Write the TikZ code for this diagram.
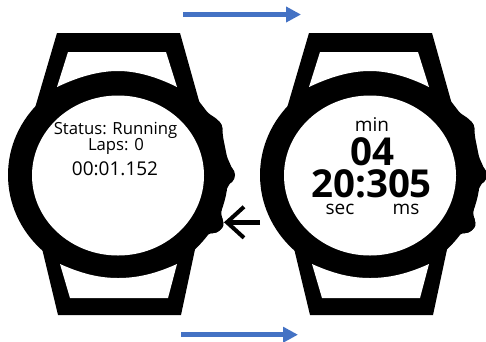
\documentclass[tikz,border=0pt]{standalone}
\usepackage{fontspec}
\setmainfont{Open Sans}
\usetikzlibrary{arrows.meta}
\definecolor{flow}{HTML}{4472C4}
\tikzset{
  x=1pt,y=-1pt,
  flowarrow/.style={draw=flow,line width=4.6pt,-{Triangle[length=15pt,width=15pt]}},
  pressarrow/.style={draw=black,line width=5.5pt,-{Straight Barb[length=17pt,width=31pt,line width=4pt]}},
  txt/.style={inner sep=0pt,anchor=base,text=black},
  watchbody/.pic={
    \fill[black] (57,33) -- (180,33) -- (201,108) -- (35,108) -- cycle;
    \fill[black] (40,240) -- (197,240) -- (181,315) -- (58,315) -- cycle;
    \fill[black] (118,175) ellipse [x radius=110,y radius=104];
    \fill[black,rounded corners=2.5pt] (190,100) -- (198,100) -- (208,113) -- (217,119) -- (222,125) -- (223,137) -- (227,157) -- (235,175) -- (226,190) -- (221,213) -- (224,226) -- (218,232) -- (208,234) -- (197,247) -- (185,247) -- cycle;
    \fill[black] (225,175) circle (10);
    \fill[black] (212,129) circle (10.5);
    \fill[black] (212.5,222.5) circle (10.8);
    \fill[white] (68,52) -- (166,52) -- (177,87) .. controls (155,76) and (135,71) .. (118,71) .. controls (100,71) and (80,76) .. (57,87) -- cycle;
    \fill[white] (60,264) .. controls (82,274) and (100,278) .. (118,278) .. controls (137,278) and (155,274) .. (177,264) -- (168,298) -- (70,298) -- cycle;
    \fill[white] (118,175.5) ellipse [x radius=86,y radius=80];
  }
}
\begin{document}
\begin{tikzpicture}
\useasboundingbox (0,0) rectangle (486,341);
\pic at (0,0) {watchbody};
\pic at (252,0) {watchbody};
\coordinate (a1) at (183,14.5); \coordinate (a2) at (301,14.5);
\coordinate (b1) at (181,334.7); \coordinate (b2) at (298,334.7);
\coordinate (c1) at (260,222.3); \coordinate (c2) at (224,222.3);
\draw[flowarrow] (a1) -- (a2);
\draw[flowarrow] (b1) -- (b2);
\draw[pressarrow] (c1) -- (c2);
\node[txt,font=\fontsize{16.7}{16.7}\selectfont] (st) at (115.5,134) {Status: Running};
\node[txt,font=\fontsize{16.7}{16.7}\selectfont] (lp) at (116,150.5) {Laps: 0};
\node[txt,font=\fontsize{19}{19}\selectfont] (tm) at (115,175) {00:01.152};
\node[txt,font=\fontsize{19}{19}\selectfont] (mi) at (372,131) {min};
\node[txt,font=\fontsize{38.5}{38.5}\bfseries\selectfont] (m4) at (372,165) {04};
\node[txt,font=\fontsize{38.5}{38.5}\bfseries\selectfont] (sx) at (371.5,197) {20:305};
\node[txt,font=\fontsize{19}{19}\selectfont] (se) at (340,214) {sec};
\node[txt,font=\fontsize{19}{19}\selectfont] (ms) at (406,214) {ms};
\end{tikzpicture}
\end{document}
